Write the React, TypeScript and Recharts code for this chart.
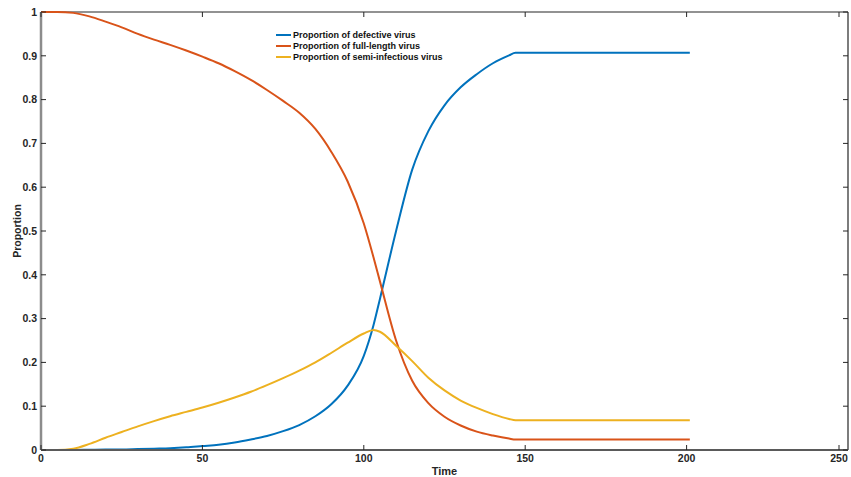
import { LineChart, Line, XAxis, YAxis, Legend, ReferenceLine } from "recharts";

// time points (x axis)
const time = [0, 5, 10, 15, 20, 25, 30, 35, 40, 45, 50, 55, 60, 65, 70, 75, 80, 85, 90, 95, 100, 103, 105, 110, 115, 120, 125, 130, 135, 140, 145, 147, 160, 180, 201];

// proportions
const defective = [0, 0, 0, 0.0005, 0.001, 0.001, 0.002, 0.003, 0.004, 0.006, 0.009, 0.012, 0.017, 0.024, 0.032, 0.043, 0.057, 0.077, 0.105, 0.147, 0.215, 0.285, 0.345, 0.5, 0.64, 0.728, 0.787, 0.828, 0.858, 0.883, 0.901, 0.907, 0.907, 0.907, 0.907];
const fullLength = [1, 1, 0.998, 0.99, 0.978, 0.965, 0.95, 0.937, 0.925, 0.912, 0.898, 0.883, 0.865, 0.845, 0.822, 0.797, 0.77, 0.733, 0.68, 0.613, 0.517, 0.44, 0.385, 0.25, 0.158, 0.107, 0.076, 0.056, 0.042, 0.033, 0.026, 0.024, 0.024, 0.024, 0.024];
const semiInfectious = [0, 0, 0.003, 0.014, 0.028, 0.041, 0.054, 0.066, 0.077, 0.087, 0.097, 0.108, 0.12, 0.133, 0.148, 0.164, 0.181, 0.2, 0.222, 0.245, 0.266, 0.274, 0.27, 0.238, 0.203, 0.165, 0.136, 0.113, 0.096, 0.082, 0.071, 0.068, 0.068, 0.068, 0.068];

const xTicks = [0, 50, 100, 150, 200, 250];
const yTicks = [0, 0.1, 0.2, 0.3, 0.4, 0.5, 0.6, 0.7, 0.8, 0.9, 1];

const series = [
  { key: "defective", name: "Proportion of defective virus", color: "#0072BD" },
  { key: "fullLength", name: "Proportion of full-length virus", color: "#D95319" },
  { key: "semiInfectious", name: "Proportion of semi-infectious virus", color: "#EDB120" },
];

const data = time.map((t, i) => ({
  t,
  defective: defective[i],
  fullLength: fullLength[i],
  semiInfectious: semiInfectious[i],
}));

// layout
const W = 851;
const H = 477;
const margin = { top: 12, right: 3, left: 0, bottom: 0 };
const X_GAP = 5; // tickMargin of the x axis
const Y_GAP = 4; // tickMargin of the y axis
const TICK = 5;
const plotTop = margin.top;
const plotRight = W - margin.right;

const font = "'Liberation Sans', Arial, sans-serif";
const textStyle = { fill: "#262626", fontSize: 10.5, fontWeight: 700, fontFamily: font };
const tickColor = "#262626";

// MATLAB-like ticks: label outside, tick marks pointing into the box (bottom + top)
function XTick(props: any) {
  const { x, y, payload } = props;
  const axisY = y - X_GAP;
  return (
    <g>
      <line x1={x} x2={x} y1={axisY} y2={axisY - TICK} stroke={tickColor} />
      <line x1={x} x2={x} y1={plotTop} y2={plotTop + TICK} stroke={tickColor} />
      <text x={x} y={y} dy="0.71em" textAnchor="middle" style={textStyle}>
        {payload.value}
      </text>
    </g>
  );
}

// left + right tick marks
function YTick(props: any) {
  const { x, y, payload } = props;
  const axisX = x + Y_GAP;
  return (
    <g>
      <line x1={axisX} x2={axisX + TICK} y1={y} y2={y} stroke={tickColor} />
      <line x1={plotRight - TICK} x2={plotRight} y1={y} y2={y} stroke={tickColor} />
      <text x={x} y={y} dy="0.355em" textAnchor="end" style={textStyle}>
        {payload.value}
      </text>
    </g>
  );
}

function LegendBox() {
  return (
    <div style={{ fontFamily: font, fontSize: 9, fontWeight: 700, color: "#111" }}>
      {series.map((s) => (
        <div key={s.key} style={{ display: "flex", alignItems: "center", height: 10.7 }}>
          <svg width={16} height={4} style={{ marginRight: 1 }}>
            <line x1={0} x2={15} y1={2} y2={2} stroke={s.color} strokeWidth={2} />
          </svg>
          <span style={{ whiteSpace: "nowrap" }}>{s.name}</span>
        </div>
      ))}
    </div>
  );
}

export default function App() {
  return (
    <div style={{ position: "absolute", left: 0, top: 0, background: "#fff" }}>
      <LineChart width={W} height={H} data={data} margin={margin}>
        <XAxis
          dataKey="t"
          type="number"
          domain={[0, 250]}
          ticks={xTicks}
          height={27}
          tickLine={false}
          tickSize={0}
          tickMargin={X_GAP}
          axisLine={{ stroke: "#5a5a5a", strokeWidth: 2 }}
          tick={<XTick />}
          label={{ value: "Time", position: "insideBottom", offset: 2, style: { fill: "#262626", fontSize: 11, fontWeight: 700, fontFamily: font } }}
        />
        <YAxis
          type="number"
          domain={[0, 1]}
          ticks={yTicks}
          width={41}
          tickLine={false}
          tickSize={0}
          tickMargin={Y_GAP}
          axisLine={{ stroke: "#8c8c8c", strokeWidth: 2.5 }}
          tick={<YTick />}
          label={{ value: "Proportion", angle: -90, position: "insideLeft", offset: 17, style: { textAnchor: "middle", fill: "#262626", fontSize: 10.5, fontWeight: 700, fontFamily: font } }}
        />
        {/* top and right sides of the box */}
        <ReferenceLine y={1} stroke="#262626" strokeWidth={1.2} />
        <ReferenceLine x={250} stroke="#262626" strokeWidth={1.2} />
        <Legend
          layout="vertical"
          align="center"
          verticalAlign="middle"
          content={() => <LegendBox />}
          wrapperStyle={{ position: "absolute", left: 276, top: 30, width: 220 }}
        />
        {series.map((s) => (
          <Line
            key={s.key}
            type="monotone"
            dataKey={s.key}
            name={s.name}
            stroke={s.color}
            strokeWidth={2}
            dot={false}
            isAnimationActive={false}
          />
        ))}
      </LineChart>
    </div>
  );
}
